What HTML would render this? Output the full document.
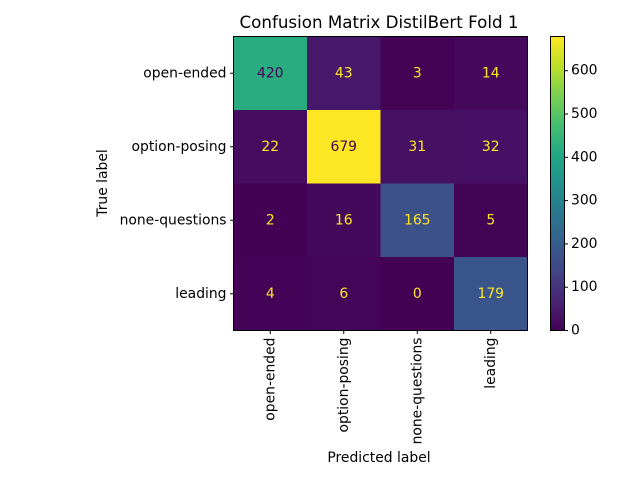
<!DOCTYPE html>
<html><head><meta charset="utf-8"><style>
body{margin:0;background:#fff}
svg{font-family:"DejaVu Sans","Liberation Sans",sans-serif}
</style></head><body>
<svg id="chart" width="640" height="480" viewBox="0 0 640 480">
<defs>
<linearGradient id="vir" x1="0" y1="1" x2="0" y2="0">
<stop offset="0" stop-color="#440154"/><stop offset="0.1" stop-color="#482475"/><stop offset="0.2" stop-color="#414487"/><stop offset="0.3" stop-color="#355f8d"/><stop offset="0.4" stop-color="#2a788e"/><stop offset="0.5" stop-color="#21918c"/><stop offset="0.6" stop-color="#22a884"/><stop offset="0.7" stop-color="#44bf70"/><stop offset="0.8" stop-color="#7ad151"/><stop offset="0.9" stop-color="#bddf26"/><stop offset="1" stop-color="#fde725"/>
</linearGradient>
</defs>
<text x="379" y="28" text-anchor="middle" font-size="16.7">Confusion Matrix DistilBert Fold 1</text>
<g id="cells"></g>
<rect x="233.5" y="36.5" width="294" height="294" fill="none" stroke="#000" stroke-width="1"/>
<g id="ticks"></g>
<text x="379" y="462" text-anchor="middle" font-size="13.9">Predicted label</text>
<text transform="translate(107,183) rotate(-90)" text-anchor="middle" font-size="13.9">True label</text>
<rect x="550.5" y="36.5" width="14" height="294" fill="url(#vir)" stroke="#000" stroke-width="1"/>
<g id="cbticks"></g>
</svg>
<script>
const labels = ["open-ended","option-posing","none-questions","leading"];
const row0 = [420,43,3,14];
const row1 = [22,679,31,32];
const row2 = [2,16,165,5];
const row3 = [4,6,0,179];
const cbTicks = [0,100,200,300,400,500,600];

const rows=[row0,row1,row2,row3];
const NS="http://www.w3.org/2000/svg";
const FS='13.9';
const x0=233.5,y0=36.5,W=294,n=labels.length,cw=W/n;
let all=[].concat(...rows);const vmin=Math.min(...all),vmax=Math.max(...all);
const stops=["#440154","#482475","#414487","#355f8d","#2a788e","#21918c","#22a884","#44bf70","#7ad151","#bddf26","#fde725"].map(h=>[1,3,5].map(i=>parseInt(h.substr(i,2),16)));
function vir(t){t=Math.max(0,Math.min(1,t))*10;const i=Math.min(9,Math.floor(t)),f=t-i;const a=stops[i],b=stops[i+1];return "rgb("+a.map((v,k)=>Math.round(v+(b[k]-v)*f)).join(",")+")";}
function el(tag,at,txt){const e=document.createElementNS(NS,tag);for(const k in at)e.setAttribute(k,at[k]);if(txt!==undefined)e.textContent=txt;return e;}
const cells=document.getElementById('cells'),ticks=document.getElementById('ticks'),cb=document.getElementById('cbticks');
rows.forEach((r,i)=>r.forEach((v,j)=>{
 const t=(v-vmin)/(vmax-vmin);
 const rc=el('rect',{x:x0+j*cw,y:y0+i*cw,width:cw+0.5,height:cw+0.5,fill:vir(t)});
 
 
 cells.appendChild(rc);
 const tx=el('text',{x:x0+(j+0.5)*cw,y:y0+(i+0.5)*cw,'text-anchor':'middle','dominant-baseline':'central','font-size':FS,fill:v>(vmax+vmin)/2?'#440154':'#fde725'},String(v));
 
 
 cells.appendChild(tx);
}));
labels.forEach((l,i)=>{
 const c=y0+(i+0.5)*cw;
 ticks.appendChild(el('line',{x1:x0,x2:x0-3.5,y1:c,y2:c,stroke:'#000'}));
 const ty=el('text',{x:x0-7,y:c,'text-anchor':'end','dominant-baseline':'central','font-size':FS},l);
 
 
 ticks.appendChild(ty);
 const cx=x0+(i+0.5)*cw,by=y0+W;
 ticks.appendChild(el('line',{x1:cx,x2:cx,y1:by,y2:by+3.5,stroke:'#000'}));
 const tx=el('text',{transform:'translate('+cx+','+(by+7)+') rotate(-90)','text-anchor':'end','dominant-baseline':'central','font-size':FS},l);
 
 
 ticks.appendChild(tx);
});
cbTicks.forEach(v=>{
 const y=y0+W-(v-vmin)/(vmax-vmin)*W;
 cb.appendChild(el('line',{x1:564.5,x2:568,y1:y,y2:y,stroke:'#000'}));
 const t=el('text',{x:571,y:y,'dominant-baseline':'central','font-size':FS},String(v));
 
 
 cb.appendChild(t);
});
</script>
</body></html>
